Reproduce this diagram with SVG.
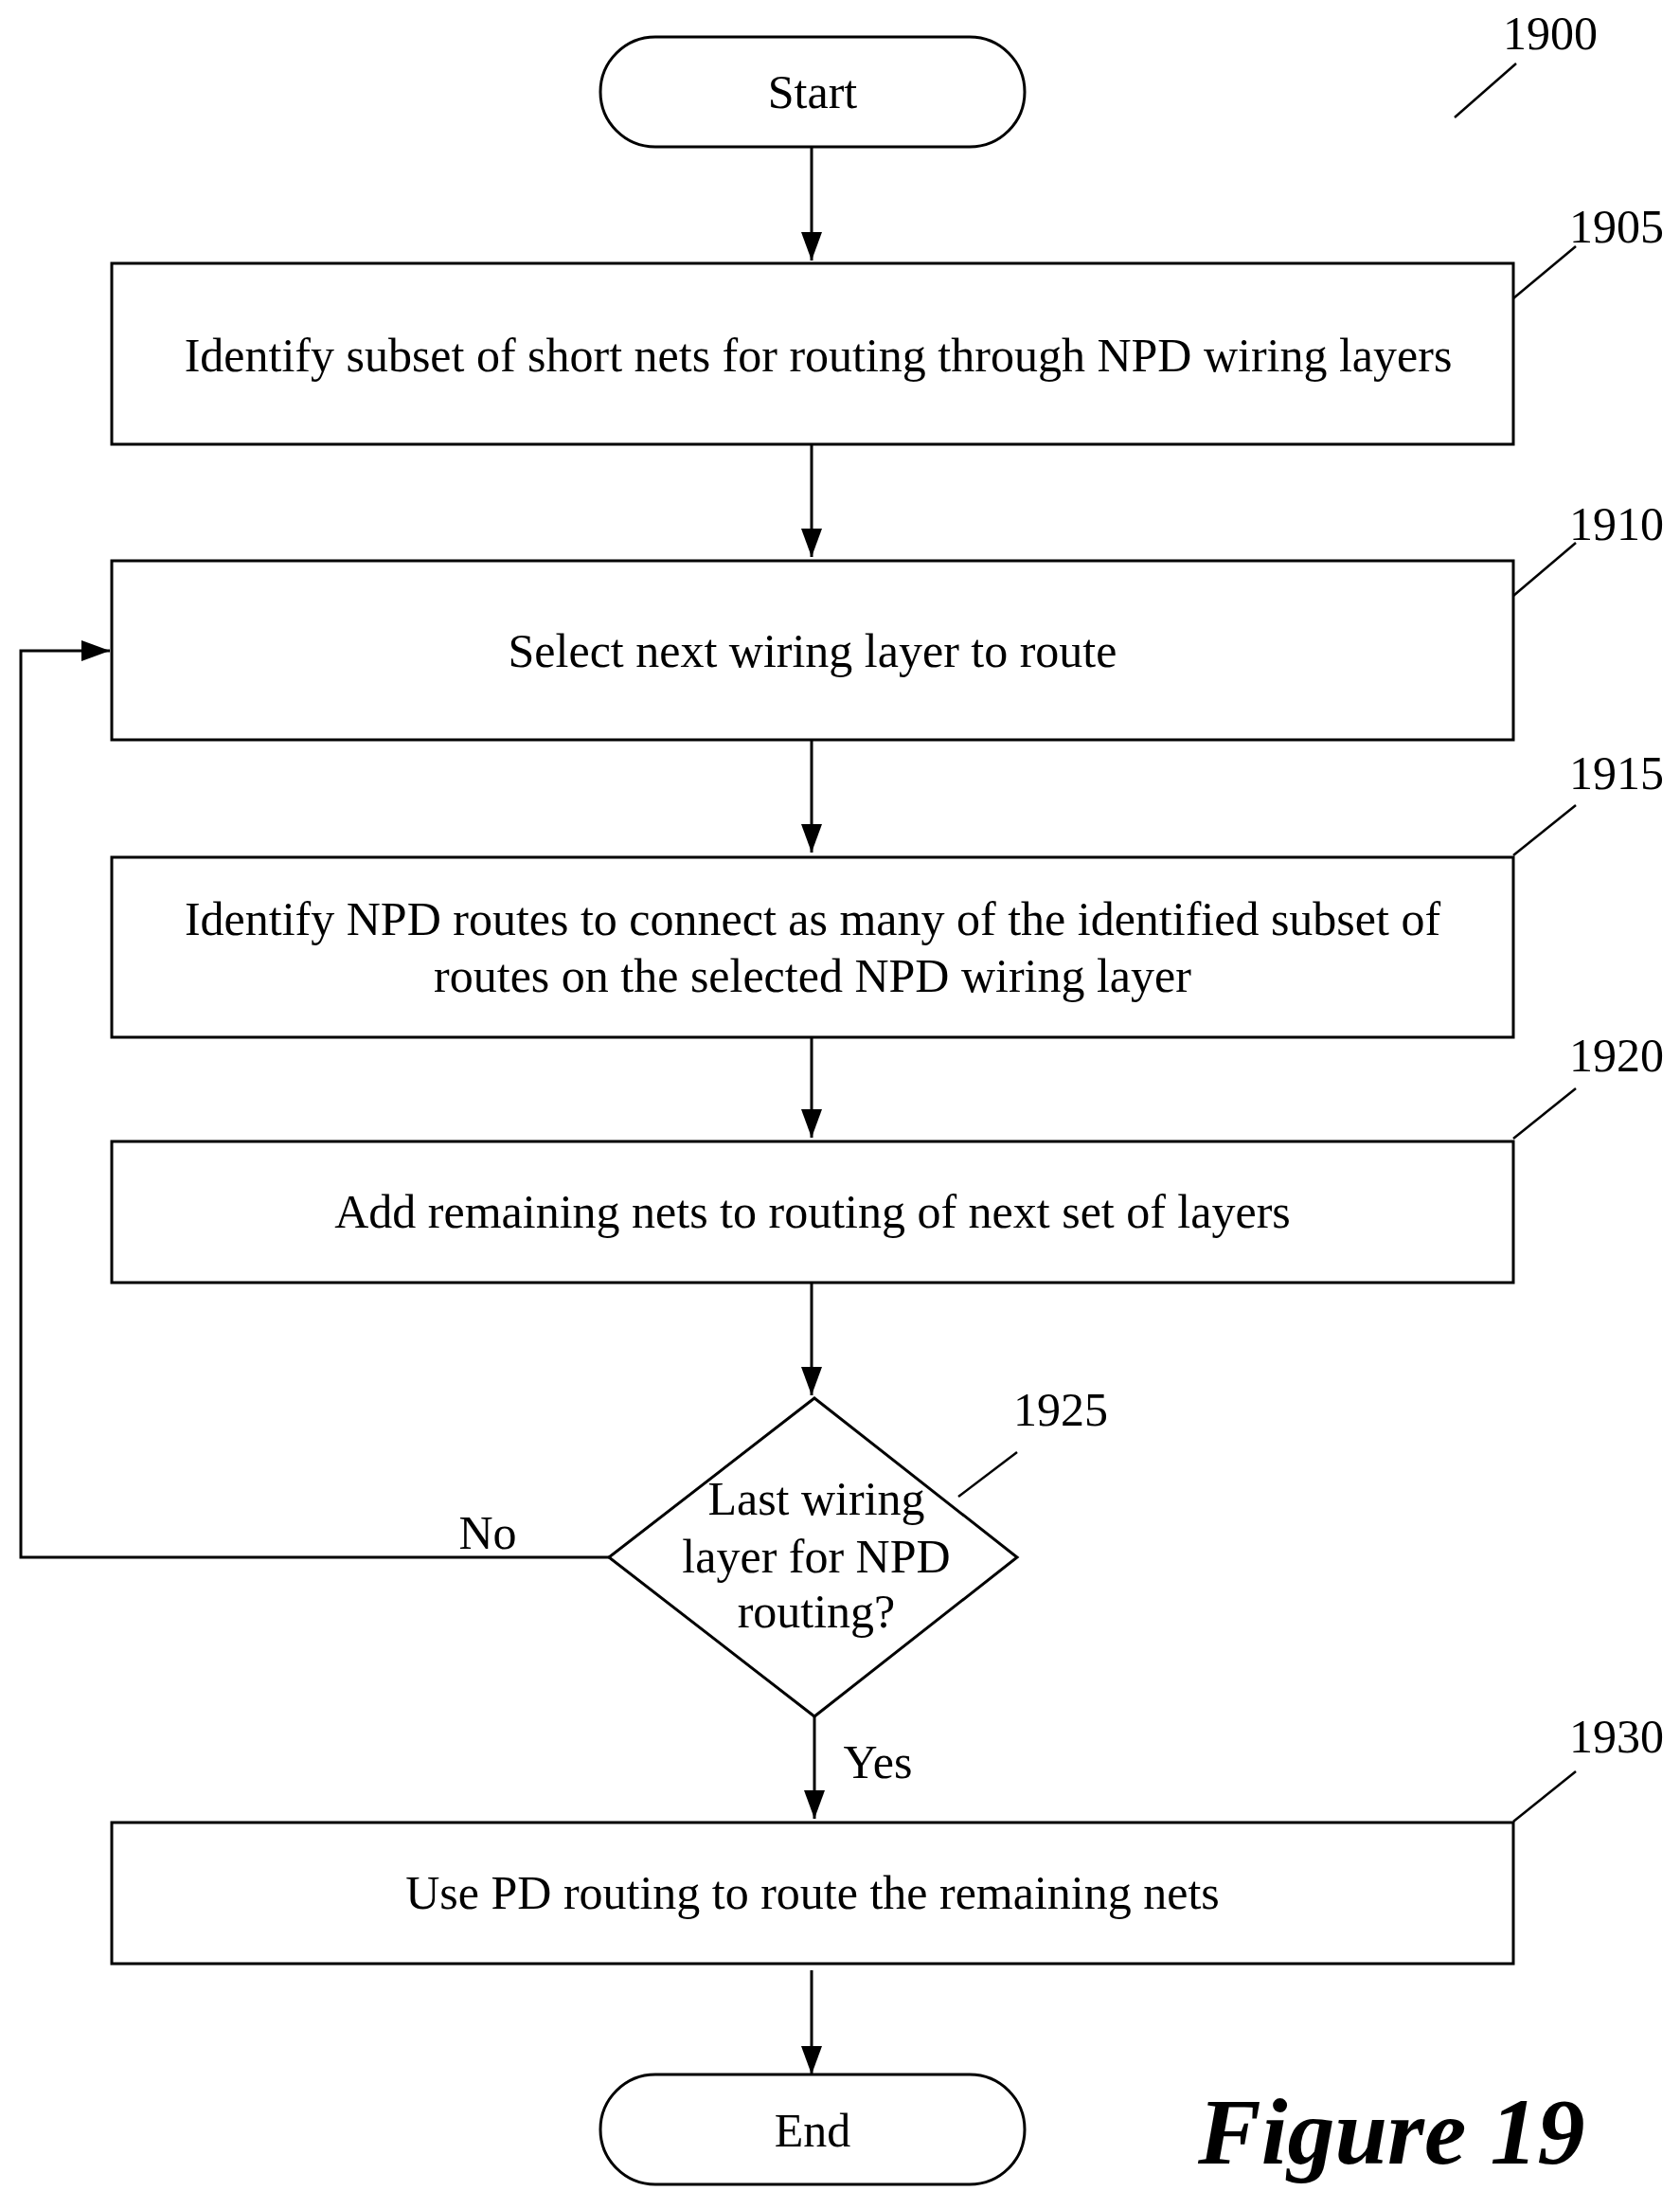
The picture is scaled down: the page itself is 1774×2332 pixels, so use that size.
<svg xmlns="http://www.w3.org/2000/svg" width="1774" height="2332" viewBox="0 0 1774 2332">
<style>
.s{fill:#fff;stroke:#000;stroke-width:3}
.t{font-family:"Liberation Serif",serif;font-size:50px;text-anchor:middle;fill:#000}
.c{fill:none;stroke:#000;stroke-width:3}
.l{fill:none;stroke:#000;stroke-width:2.5}
</style>
<defs>
<marker id="b" viewBox="0 0 30 22" refX="30" refY="11" markerWidth="30" markerHeight="22" orient="auto" markerUnits="userSpaceOnUse"><path d="M0,0L30,11L0,22z" fill="#000"/></marker></defs>
<rect width="1774" height="2332" fill="#fff"/>
<g id="connectors">
<path class="c" marker-end="url(#b)" d="M857,155V275"/>
<path class="c" marker-end="url(#b)" d="M857,469V588"/>
<path class="c" marker-end="url(#b)" d="M857,781V900"/>
<path class="c" marker-end="url(#b)" d="M857,1095V1201"/>
<path class="c" marker-end="url(#b)" d="M857,1354V1473"/>
<path class="c" marker-end="url(#b)" d="M860,1812V1920"/>
<path class="c" marker-end="url(#b)" d="M857,2080V2190"/>
<path class="c" marker-end="url(#b)" d="M643,1644H22V687H116"/>
<text class="t" x="515" y="1635">No</text>
<text class="t" x="927" y="1877">Yes</text>
</g>
<g id="n1900"><text class="t" x="1637" y="52">1900</text><path class="l" d="M1536,124L1601,67"/></g>
<g id="start"><rect class="s" x="634" y="39" width="448" height="116" rx="58"/><text class="t" x="858" y="114">Start</text></g>
<g id="n1905"><rect class="s" x="118" y="278" width="1480" height="191"/><text class="t" x="864" y="392">Identify subset of short nets for routing through NPD wiring layers</text><text class="t" x="1707" y="256">1905</text><path class="l" d="M1598,315L1664,260"/></g>
<g id="n1910"><rect class="s" x="118" y="592" width="1480" height="189"/><text class="t" x="858" y="704">Select next wiring layer to route</text><text class="t" x="1707" y="570">1910</text><path class="l" d="M1598,629L1664,573"/></g>
<g id="n1915"><rect class="s" x="118" y="905" width="1480" height="190"/><text class="t" x="858" y="987">Identify NPD routes to connect as many of the identified subset of</text><text class="t" x="858" y="1047">routes on the selected NPD wiring layer</text><text class="t" x="1707" y="833">1915</text><path class="l" d="M1598,903L1664,850"/></g>
<g id="n1920"><rect class="s" x="118" y="1205" width="1480" height="149"/><text class="t" x="858" y="1296">Add remaining nets to routing of next set of layers</text><text class="t" x="1707" y="1131">1920</text><path class="l" d="M1598,1202L1664,1149"/></g>
<g id="n1925"><path class="s" d="M860,1476L1074,1644L860,1812L643,1644z"/><text class="t" x="862" y="1599">Last wiring</text><text class="t" x="862" y="1660">layer for NPD</text><text class="t" x="862" y="1718">routing?</text><text class="t" x="1120" y="1505">1925</text><path class="l" d="M1012,1580L1074,1533"/></g>
<g id="n1930"><rect class="s" x="118" y="1924" width="1480" height="149"/><text class="t" x="858" y="2015">Use PD routing to route the remaining nets</text><text class="t" x="1707" y="1850">1930</text><path class="l" d="M1598,1923L1664,1870"/></g>
<g id="end"><rect class="s" x="634" y="2190" width="448" height="116" rx="58"/><text class="t" x="858" y="2266">End</text></g>
<text x="1265" y="2284" style="font-family:'Liberation Serif',serif;font-size:100px;font-weight:bold;font-style:italic">Figure 19</text>
</svg>
